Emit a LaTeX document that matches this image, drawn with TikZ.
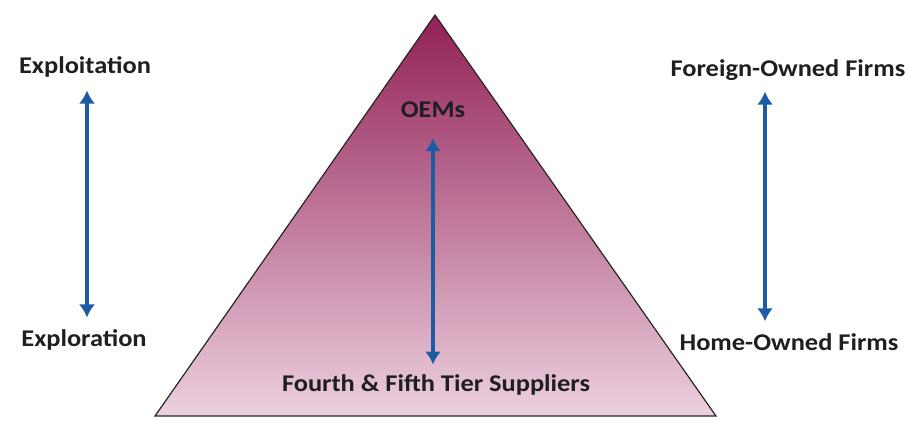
\documentclass[tikz,border=0pt]{standalone}
\usepackage{fontspec}
\setmainfont{Carlito}[FakeStretch=1.1]
\usetikzlibrary{arrows}
\usetikzlibrary{arrows.meta}
\usetikzlibrary{positioning}
\definecolor{tiptop}{RGB}{146,32,86}
\definecolor{tipbottom}{RGB}{236,208,222}
\definecolor{arrowblue}{RGB}{28,92,164}
\tikzstyle{caption} = [font=\fontsize{24}{29}\selectfont\bfseries, text=black!88, inner sep=0pt]
\tikzstyle{twoway} = [<->, draw=arrowblue, line width=4.5pt]

\begin{document}
\begin{tikzpicture}[x=1pt, y=-1pt, >={Latex[length=13pt,width=16pt]}]
    \useasboundingbox (0,0) rectangle (908,421);
    % the pyramid first, so the texts sit on top of it
    \path[draw=black!85, line width=1.2pt, top color=tiptop, bottom color=tipbottom]
        (435,15) -- (155,416) -- (716,416) -- cycle;
    \node [caption] (oems) at (433,110) {OEMs};
    \node [caption] (suppliers) at (436,385) {Fourth \& Fifth Tier Suppliers};
    % left and right scales
    \node [caption] (exploit) at (85,67) {Exploitation};
    \node [caption] (explor) at (84,340) {Exploration};
    \node [caption] (foreign) at (788,70) {Foreign-Owned Firms};
    \node [caption] (home) at (789,342) {Home-Owned Firms};
    % the two-way arrows
    \draw [twoway, shorten <=13pt, shorten >=12pt] (exploit.south -| 87,0) -- (explor.north -| 87,0);
    \draw [twoway, shorten <=20pt, shorten >=10pt] (oems.south) -- (oems.south |- suppliers.north);
    \draw [twoway, shorten <=11pt, shorten >=12pt] (foreign.south -| 765,0) -- (home.north -| 765,0);
\end{tikzpicture}
\end{document}
